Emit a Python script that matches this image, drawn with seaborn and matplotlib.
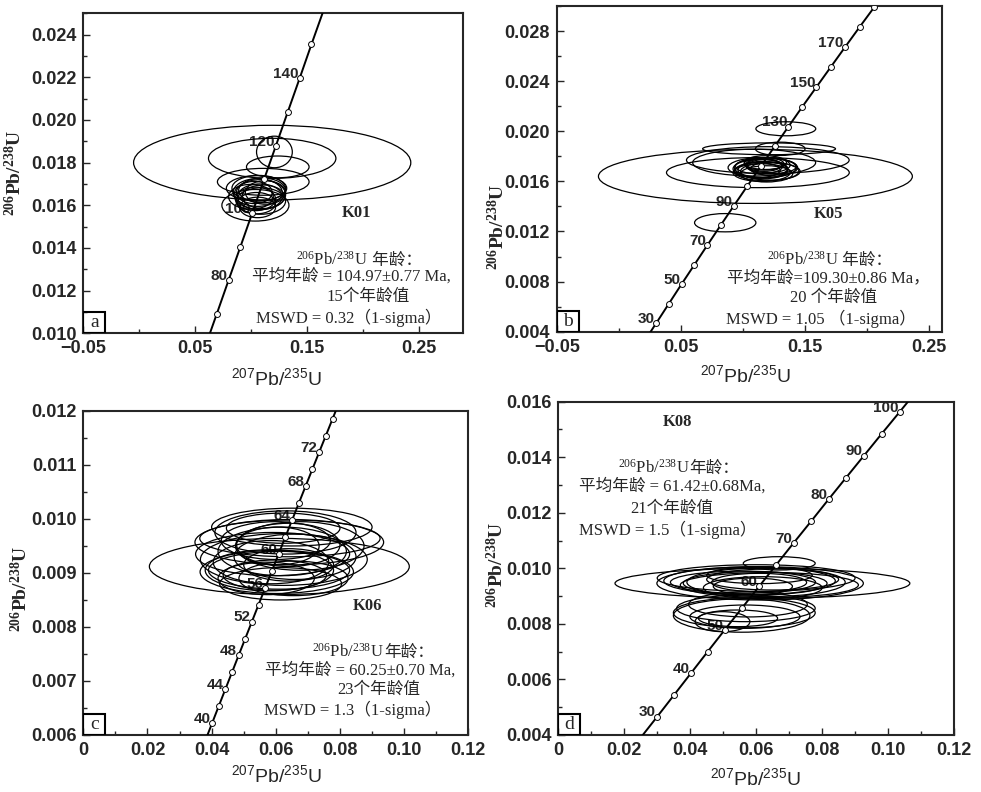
import matplotlib
matplotlib.use('Agg')
import matplotlib.pyplot as plt
import seaborn as sns
from matplotlib.patches import Ellipse, Rectangle
from matplotlib.ticker import FixedLocator, FuncFormatter

# ---------------- K01 (a) ----------------
a_conc_age = [70, 80, 90, 100, 110, 120, 130, 140, 150]
a_conc_x = [0.0695, 0.0800, 0.0906, 0.1011, 0.1117, 0.1223, 0.1329, 0.1436, 0.1541]
a_conc_y = [0.01092, 0.01249, 0.01406, 0.01563, 0.01721, 0.01879, 0.02037, 0.02196, 0.02354]
a_line_x = [0.0589, 0.1649]
a_line_y = [0.00935, 0.02513]
a_labels = [80, 100, 120, 140]
a_ell_x = [0.119, 0.119, 0.121, 0.124, 0.111, 0.104, 0.105, 0.106, 0.108, 0.104, 0.110,
           0.105, 0.109, 0.103, 0.107, 0.111, 0.100, 0.106, 0.113, 0.108]
a_ell_y = [0.0180, 0.0182, 0.0185, 0.0178, 0.0171, 0.0160, 0.0168, 0.0166, 0.0164, 0.0163, 0.0167,
           0.0161, 0.0162, 0.0166, 0.0168, 0.0164, 0.0164, 0.0159, 0.0166, 0.0165]
a_ell_rx = [0.124, 0.057, 0.016, 0.028, 0.041, 0.030, 0.027, 0.022, 0.020, 0.018, 0.021,
            0.017, 0.022, 0.016, 0.024, 0.019, 0.020, 0.016, 0.018, 0.023]
a_ell_ry = [0.00175, 0.00094, 0.00074, 0.00051, 0.00063, 0.00074, 0.00059, 0.00065, 0.00060, 0.00055, 0.00058,
            0.00050, 0.00062, 0.00052, 0.00060, 0.00055, 0.00058, 0.00048, 0.00055, 0.00070]

# ---------------- K05 (b) ----------------
b_conc_age = [30, 40, 50, 60, 70, 80, 90, 100, 110, 120, 130, 140, 150, 160, 170, 180, 190]
b_conc_x = [0.0300, 0.0402, 0.0505, 0.0609, 0.0714, 0.0820, 0.0927, 0.1035, 0.1144, 0.1255,
            0.1366, 0.1478, 0.1592, 0.1707, 0.1822, 0.1939, 0.2057]
b_conc_y = [0.00466, 0.00622, 0.00779, 0.00935, 0.01092, 0.01249, 0.01406, 0.01563, 0.01721, 0.01879,
            0.02037, 0.02196, 0.02354, 0.02513, 0.02672, 0.02832, 0.02991]
b_line_x = [0.0249, 0.2057]
b_line_y = [0.00389, 0.02991]
b_labels = [30, 50, 70, 90, 130, 150, 170]
b_ell_x = [0.110, 0.1345, 0.0857, 0.121, 0.130, 0.112, 0.109, 0.120, 0.118, 0.116, 0.120, 0.114,
           0.122, 0.117, 0.119, 0.113, 0.121, 0.115, 0.118, 0.116, 0.123, 0.112, 0.119, 0.117]
b_ell_y = [0.0164, 0.0202, 0.0127, 0.0186, 0.0186, 0.0167, 0.0175, 0.0177, 0.0171, 0.0169, 0.0173, 0.0170,
           0.0168, 0.0174, 0.0166, 0.0172, 0.0170, 0.0167, 0.0175, 0.0171, 0.0172, 0.0169, 0.0168, 0.0173]
b_ell_rx = [0.1264, 0.0241, 0.0247, 0.0535, 0.020, 0.0736, 0.0495, 0.0655, 0.025, 0.020, 0.018, 0.022,
            0.024, 0.016, 0.021, 0.019, 0.015, 0.023, 0.017, 0.028, 0.020, 0.018, 0.026, 0.014]
b_ell_ry = [0.00216, 0.00056, 0.00073, 0.00047, 0.00053, 0.0012, 0.00107, 0.00107, 0.0008, 0.0007, 0.0006, 0.00075,
            0.0007, 0.0005, 0.00065, 0.0006, 0.0005, 0.0007, 0.00055, 0.0008, 0.0006, 0.0006, 0.00075, 0.0005]

# ---------------- K06 (c) ----------------
c_conc_age = [40, 42, 44, 46, 48, 50, 52, 54, 56, 58, 60, 62, 64, 66, 68, 70, 72, 74, 76]
c_conc_x = [0.04018, 0.04223, 0.04429, 0.04635, 0.04841, 0.05048, 0.05255, 0.05462, 0.05670, 0.05878,
            0.06087, 0.06296, 0.06506, 0.06716, 0.06926, 0.07137, 0.07348, 0.07560, 0.07772]
c_conc_y = [0.006224, 0.006537, 0.006849, 0.007161, 0.007474, 0.007786, 0.008099, 0.008412, 0.008725, 0.009038,
            0.009351, 0.009664, 0.009977, 0.010291, 0.010604, 0.010918, 0.011232, 0.011545, 0.011859]
c_line_x = [0.03813, 0.07985]
c_line_y = [0.005912, 0.012173]
c_labels = [40, 44, 48, 52, 56, 60, 64, 68, 72]
c_ell_x = [0.0611, 0.0642, 0.0644, 0.0623, 0.0639, 0.0603, 0.0597, 0.0620, 0.0585, 0.0660, 0.0610, 0.0630,
           0.0570, 0.0655, 0.0600, 0.0675, 0.0590, 0.0640, 0.0615, 0.0605, 0.0650, 0.0580, 0.0625]
c_ell_y = [0.00912, 0.00957, 0.00964, 0.00983, 0.00952, 0.00902, 0.00896, 0.00940, 0.00920, 0.00930, 0.00905, 0.00975,
           0.00890, 0.00890, 0.00960, 0.00950, 0.00935, 0.00915, 0.00880, 0.00950, 0.00985, 0.00905, 0.00925]
c_ell_rx = [0.0405, 0.0294, 0.0281, 0.0177, 0.0161, 0.0239, 0.0161, 0.020, 0.018, 0.019, 0.022, 0.022,
            0.015, 0.017, 0.017, 0.020, 0.024, 0.014, 0.019, 0.013, 0.025, 0.020, 0.026]
c_ell_ry = [0.00052, 0.00042, 0.00034, 0.00028, 0.00040, 0.00040, 0.00028, 0.00045, 0.00040, 0.00042, 0.00035, 0.00040,
            0.00030, 0.00032, 0.00035, 0.00045, 0.00040, 0.00030, 0.00030, 0.00035, 0.00035, 0.00038, 0.00048]

# ---------------- K08 (d) ----------------
d_conc_age = [30, 35, 40, 45, 50, 55, 60, 65, 70, 75, 80, 85, 90, 95, 100]
d_conc_x = [0.0300, 0.0351, 0.0402, 0.0453, 0.0505, 0.0557, 0.0609, 0.0661, 0.0714, 0.0767,
            0.0820, 0.0873, 0.0927, 0.0981, 0.1035]
d_conc_y = [0.00466, 0.00544, 0.00622, 0.00700, 0.00779, 0.00857, 0.00935, 0.01013, 0.01092, 0.01170,
            0.01249, 0.01327, 0.01406, 0.01485, 0.01563]
d_line_x = [0.0249, 0.1089]
d_line_y = [0.00389, 0.01642]
d_labels = [30, 40, 50, 60, 70, 80, 90, 100]
d_ell_x = [0.0619, 0.0670, 0.0612, 0.0597, 0.0609, 0.0580, 0.0640, 0.0560, 0.0650, 0.0620, 0.0600, 0.0590,
           0.0630, 0.0610, 0.0556, 0.0566, 0.0498, 0.0564, 0.0569, 0.0545, 0.0575]
d_ell_y = [0.00946, 0.01018, 0.00946, 0.00946, 0.00949, 0.00955, 0.00940, 0.00950, 0.00960, 0.00930, 0.00965, 0.00935,
           0.00950, 0.00975, 0.00830, 0.00826, 0.00808, 0.00840, 0.00856, 0.00820, 0.00870]
d_ell_rx = [0.0447, 0.0109, 0.0313, 0.0218, 0.0144, 0.026, 0.027, 0.022, 0.020, 0.018, 0.030, 0.012,
            0.024, 0.016, 0.0207, 0.0167, 0.0083, 0.0215, 0.021, 0.012, 0.018]
d_ell_ry = [0.00054, 0.00024, 0.00060, 0.00042, 0.00033, 0.00050, 0.00045, 0.00040, 0.00038, 0.00040, 0.00048, 0.00030,
            0.00052, 0.00030, 0.00060, 0.00042, 0.00036, 0.00054, 0.00048, 0.00030, 0.00045]

sns.set_style('ticks')
plt.rcParams['font.family'] = ['Liberation Sans', 'Noto Sans CJK SC']
plt.rcParams['mathtext.default'] = 'regular'
SERIF = ['Liberation Serif', 'Noto Sans CJK SC']


def fmt_two(v, pos):
    if abs(v) < 1e-9:
        return '0'
    return f'{v:.2f}'.replace('-', '\u2212')


def draw_panel(ax, conc_age, conc_x, conc_y, line_x, line_y, labels,
               ell_x, ell_y, ell_rx, ell_ry, xlim, ylim, xmajor, xminor, ymajor, yminor,
               xfmt, letter, sample, sample_pos, lines, line1_pos, text_pos,
               xlab_pos, ylab_pos):
    # error ellipses
    for cx, cy, rx, ry in zip(ell_x, ell_y, ell_rx, ell_ry):
        ax.add_patch(Ellipse((cx, cy), 2 * rx, 2 * ry, fill=False, ec='black', lw=0.9, zorder=3))
    # concordia curve
    lx = [line_x[0]] + conc_x + [line_x[1]]
    ly = [line_y[0]] + conc_y + [line_y[1]]
    sns.lineplot(x=lx, y=ly, sort=False, estimator=None, color='black', lw=1.4, ax=ax, zorder=4)
    sns.scatterplot(x=conc_x, y=conc_y, marker='o', s=18, color='white', edgecolor='black',
                    linewidth=0.7, ax=ax, zorder=5)
    for age, x, y in zip(conc_age, conc_x, conc_y):
        if age in labels:
            ax.annotate(str(age), (x, y), xytext=(-1, 3), textcoords='offset points',
                        ha='right', va='center', fontsize=11, fontweight='bold', zorder=2)

    ax.set_xlim(*xlim)
    ax.set_ylim(*ylim)
    ax.xaxis.set_major_locator(FixedLocator(xmajor))
    ax.xaxis.set_minor_locator(FixedLocator(xminor))
    ax.yaxis.set_major_locator(FixedLocator(ymajor))
    ax.yaxis.set_minor_locator(FixedLocator(yminor))
    ax.xaxis.set_major_formatter(FuncFormatter(xfmt))
    ax.yaxis.set_major_formatter(FuncFormatter(lambda v, p: f'{v:.3f}'))
    ax.tick_params(which='both', direction='in', top=False, right=False, width=1)
    ax.tick_params(which='major', length=5, labelsize=13, pad=5)
    ax.tick_params(which='minor', length=3)
    for lab in ax.get_xticklabels() + ax.get_yticklabels():
        lab.set_fontweight('bold')
    for sp in ax.spines.values():
        sp.set_linewidth(1.5)
        sp.set_visible(True)

    ax.set_xlabel(r'$^{207}$Pb/$^{235}$U', fontsize=14, va='center')
    ax.xaxis.set_label_coords(*xlab_pos)
    ax.set_ylabel(r'$^{206}$Pb/$^{238}$U', fontsize=14, fontweight='bold', family='Liberation Serif',
                  va='center')
    ax.yaxis.set_label_coords(*ylab_pos)

    # panel letter box
    bw, bh = 22 / (ax.get_position().width * 981), 21 / (ax.get_position().height * 792)
    ax.add_patch(Rectangle((0, 0), bw, bh, transform=ax.transAxes, fill=False, ec='black', lw=1.5, zorder=6))
    ax.text(bw / 2, bh / 2, letter, transform=ax.transAxes, ha='center', va='center',
            fontsize=14, family='Liberation Serif', zorder=6)

    ax.text(*sample_pos, sample, transform=ax.transAxes, ha='center', va='center',
            fontsize=12, fontweight='bold', family='Liberation Serif')
    t1 = ax.text(line1_pos[0], line1_pos[1], r'$^{206}$Pb/$^{238}$U', transform=ax.transAxes,
                 ha='left', va='baseline', fontsize=12, family='Liberation Serif')
    ax.annotate(lines[0], xy=(1, 0), xycoords=t1, ha='left', va='bottom',
                fontsize=12, family=SERIF)
    for txt, (tx, ty) in zip(lines[1:], text_pos):
        ax.text(tx, ty, txt, transform=ax.transAxes, ha='center', va='center',
                fontsize=12, family=SERIF)


fig = plt.figure(figsize=(9.81, 7.92), dpi=100)
ax_a = fig.add_axes([0.0849, 0.5792, 0.3874, 0.4040])
ax_b = fig.add_axes([0.5675, 0.5812, 0.3924, 0.4112])
ax_c = fig.add_axes([0.0849, 0.0720, 0.3925, 0.4091])
ax_d = fig.add_axes([0.5691, 0.0720, 0.4034, 0.4208])

x_ab_major = [-0.05, 0.05, 0.15, 0.25]
x_ab_minor = [0.0, 0.10, 0.20]
x_cd_major = [0, 0.02, 0.04, 0.06, 0.08, 0.10, 0.12]
x_cd_minor = [0.01, 0.03, 0.05, 0.07, 0.09, 0.11]

draw_panel(ax_a, a_conc_age, a_conc_x, a_conc_y, a_line_x, a_line_y, a_labels,
           a_ell_x, a_ell_y, a_ell_rx, a_ell_ry, (-0.05, 0.29), (0.010, 0.025),
           x_ab_major, x_ab_minor,
           [0.010, 0.012, 0.014, 0.016, 0.018, 0.020, 0.022, 0.024],
           [0.011, 0.013, 0.015, 0.017, 0.019, 0.021, 0.023, 0.025],
           fmt_two, 'a', 'K01', (0.719, 0.375),
           [' 年龄：', '平均年龄 = 104.97±0.77 Ma,', '15个年龄值', 'MSWD = 0.32（1-sigma）'],
           (0.560, 0.215), [(0.706, 0.177), (0.75, 0.114), (0.699, 0.047)],
           (0.509, -0.14), (-0.18, 0.50))

draw_panel(ax_b, b_conc_age, b_conc_x, b_conc_y, b_line_x, b_line_y, b_labels,
           b_ell_x, b_ell_y, b_ell_rx, b_ell_ry, (-0.05, 0.26), (0.004, 0.030),
           x_ab_major, x_ab_minor,
           [0.004, 0.008, 0.012, 0.016, 0.020, 0.024, 0.028],
           [0.006, 0.010, 0.014, 0.018, 0.022, 0.026, 0.030],
           fmt_two, 'b', 'K05', (0.706, 0.361),
           [' 年龄：', '平均年龄=109.30±0.86 Ma，', '20 个年龄值', 'MSWD = 1.05 （1-sigma）'],
           (0.545, 0.207), [(0.706, 0.164), (0.719, 0.103), (0.686, 0.038)],
           (0.491, -0.133), (-0.155, 0.32))

draw_panel(ax_c, c_conc_age, c_conc_x, c_conc_y, c_line_x, c_line_y, c_labels,
           c_ell_x, c_ell_y, c_ell_rx, c_ell_ry, (0, 0.12), (0.006, 0.012),
           x_cd_major, x_cd_minor,
           [0.006, 0.007, 0.008, 0.009, 0.010, 0.011, 0.012],
           [0.0065, 0.0075, 0.0085, 0.0095, 0.0105, 0.0115],
           fmt_two, 'c', 'K06', (0.738, 0.399),
           ['年龄：', '平均年龄 = 60.25±0.70 Ma,', '23个年龄值', 'MSWD = 1.3（1-sigma）'],
           (0.595, 0.243), [(0.719, 0.20), (0.768, 0.139), (0.699, 0.077)],
           (0.502, -0.123), (-0.164, 0.45))

draw_panel(ax_d, d_conc_age, d_conc_x, d_conc_y, d_line_x, d_line_y, d_labels,
           d_ell_x, d_ell_y, d_ell_rx, d_ell_ry, (0, 0.12), (0.004, 0.016),
           x_cd_major, x_cd_minor,
           [0.004, 0.006, 0.008, 0.010, 0.012, 0.014, 0.016],
           [0.005, 0.007, 0.009, 0.011, 0.013, 0.015],
           fmt_two, 'd', 'K08', (0.301, 0.94),
           ['年龄：', '平均年龄 = 61.42±0.68Ma,', '21个年龄值', 'MSWD = 1.5（1-sigma）'],
           (0.150, 0.787), [(0.287, 0.745), (0.287, 0.68), (0.276, 0.615)],
           (0.497, -0.129), (-0.155, 0.51))

fig.savefig('out.png', dpi=100)
